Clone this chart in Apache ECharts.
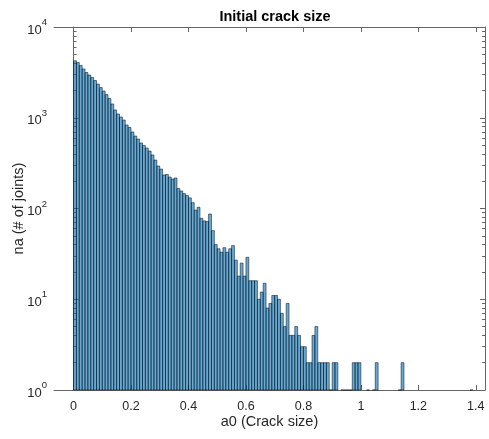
<!DOCTYPE html>
<html>
<head>
<meta charset="utf-8">
<script src="https://cdn.jsdelivr.net/npm/echarts@6/dist/echarts.min.js"></script>
<style>
  html, body { margin: 0; padding: 0; background: #fff; }
  #chart { width: 489px; height: 439px; }
</style>
</head>
<body>
<div id="chart"></div>
<script>
// histogram bins: width 0.01 starting at 0, counts
var binStart = 0;
var binWidth = 0.01;
var counts = [
  4250, 4060, 3770, 3450, 3150, 2960, 2780, 2570, 2350, 2150,
  1970, 1800, 1630, 1420, 1220, 1100, 1020, 944, 832, 781,
  697, 629, 583, 527, 495, 464, 430, 389, 342, 294,
  272, 234, 237, 222, 211, 217, 166, 156, 146, 139,
  131, 116, 96, 103, 78, 73, 72, 87, 57, 40,
  36, 33, 37, 33, 36, 39, 27, 18, 25, 18,
  29, 16, 16, 16, 10, 12, 15, 8, 9, 11,
  11, 10, 7, 5, 9, 4, 4, 5, 4, 3,
  3, 2, 2, 4, 5, 2, 2, 2, 2, 1,
  2, 2, 0, 1, 1, 1, 1, 2, 2, 2,
  0, 0, 1, 0, 1, 2, 0, 0, 0, 0,
  0, 0, 0, 1, 2, 0, 0, 0, 0, 0,
  0, 0, 0, 0, 0, 0, 0, 0, 0, 0,
  0, 0, 0, 0, 0, 0, 0, 0, 1, 0
];
var xTicks = [0, 0.2, 0.4, 0.6, 0.8, 1, 1.2, 1.4];
var yTicks = [1, 10, 100, 1000, 10000];
var yMinorTicks = [2, 3, 4, 5, 6, 7, 8, 9, 20, 30, 40, 50, 60, 70, 80, 90,
  200, 300, 400, 500, 600, 700, 800, 900, 2000, 3000, 4000, 5000, 6000, 7000, 8000, 9000];

var bins = [];
counts.forEach(function (c, i) {
  if (c > 0) {
    bins.push([binStart + i * binWidth, binStart + (i + 1) * binWidth, c]);
  }
});

var chart = echarts.init(document.getElementById('chart'), null, { renderer: 'canvas' });

var axisColor = '#666';
var textColor = '#262626';
var font = 'Liberation Sans';

function yAxisBase(pos, extra) {
  var ax = {
    type: 'log',
    logBase: 10,
    min: 1,
    max: 10000,
    position: pos,
    splitLine: { show: false },
    axisLine: { show: true, lineStyle: { color: axisColor, width: 1 } },
    axisLabel: { show: false },
    axisTick: { show: true, inside: true, length: 5, lineStyle: { color: axisColor } }
  };
  return Object.assign(ax, extra || {});
}

var options = {
  animation: false,
  backgroundColor: '#fff',
  title: {
    text: 'Initial crack size',
    left: 270,
    textAlign: 'center',
    top: 4,
    textStyle: { fontFamily: font, fontSize: 14.5, fontWeight: 'bold', color: '#000' }
  },
  grid: { left: 54, right: 4, top: 27, bottom: 49, containLabel: false, outerBoundsMode: 'none' },
  xAxis: [{
    type: 'value',
    min: -0.068,
    max: 1.432,
    position: 'bottom',
    name: 'a0 (Crack size)',
    nameLocation: 'middle',
    nameGap: 24,
    nameMoveOverlap: false,
    nameTextStyle: { fontFamily: font, fontSize: 14.5, color: textColor },
    splitLine: { show: false },
    axisLine: { show: true, lineStyle: { color: axisColor, width: 1 } },
    axisTick: { show: true, inside: true, length: 5, customValues: xTicks, lineStyle: { color: axisColor } },
    axisLabel: { customValues: xTicks, margin: 10, fontFamily: font, fontSize: 12.5, color: textColor }
  }, {
    type: 'value',
    min: -0.068,
    max: 1.432,
    position: 'top',
    splitLine: { show: false },
    axisLine: { show: true, lineStyle: { color: axisColor, width: 1 } },
    axisTick: { show: true, inside: true, length: 5, customValues: xTicks, lineStyle: { color: axisColor } },
    axisLabel: { show: false }
  }],
  yAxis: [
    yAxisBase('left', {
      name: 'na (# of joints)',
      nameLocation: 'middle',
      nameGap: 28,
      nameMoveOverlap: false,
      nameTextStyle: { fontFamily: font, fontSize: 14.5, color: textColor },
      axisTick: { show: true, inside: true, length: 5, customValues: yTicks, lineStyle: { color: axisColor } },
      axisLabel: {
        show: true,
        customValues: yTicks,
        margin: 7,
        fontFamily: font,
        fontSize: 12.5,
        color: textColor,
        formatter: function (v) {
          return '{b|10}{s|' + Math.round(Math.log10(v)) + '}';
        },
        rich: {
          b: { fontFamily: font, fontSize: 13, color: textColor, padding: [6, 0, 0, 0] },
          s: { fontFamily: font, fontSize: 9.5, color: textColor, verticalAlign: 'top', padding: [0, 0, 6, 0] }
        }
      }
    }),
    yAxisBase('left', {
      axisLine: { show: false },
      axisTick: { show: true, inside: true, length: 3, customValues: yMinorTicks, lineStyle: { color: axisColor } }
    }),
    yAxisBase('right', {
      axisTick: { show: true, inside: true, length: 5, customValues: yTicks, lineStyle: { color: axisColor } }
    }),
    yAxisBase('right', {
      axisLine: { show: false },
      axisTick: { show: true, inside: true, length: 3, customValues: yMinorTicks, lineStyle: { color: axisColor } }
    })
  ],
  series: [{
    name: 'na',
    type: 'custom',
    xAxisIndex: 0,
    yAxisIndex: 0,
    data: bins,
    encode: { x: [0, 1], y: 2 },
    renderItem: function (params, api) {
      var p0 = api.coord([api.value(0), api.value(2)]);
      var p1 = api.coord([api.value(1), 1]);
      return {
        type: 'rect',
        shape: { x: p0[0], y: p0[1], width: p1[0] - p0[0], height: p1[1] - p0[1] },
        style: { fill: 'rgba(0,114,189,0.6)', stroke: '#000', lineWidth: 0.5 }
      };
    }
  }]
};

chart.setOption(options);
</script>
</body>
</html>
